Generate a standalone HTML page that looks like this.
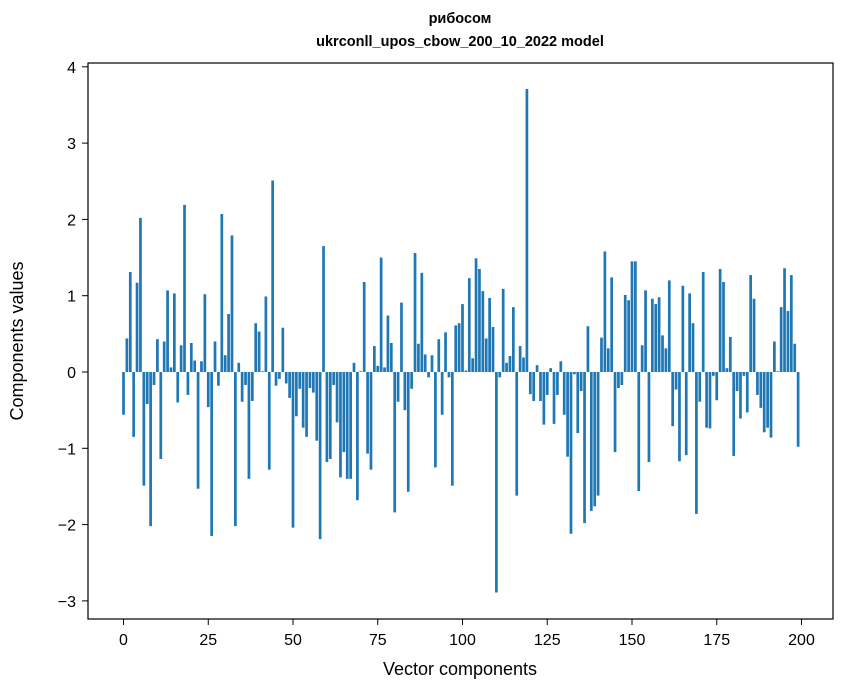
<!DOCTYPE html>
<html><head><meta charset="utf-8"><style>
body{margin:0;background:#fff;}
svg{display:block;font-family:"Liberation Sans","DejaVu Sans",sans-serif;}
</style></head><body>
<svg width="847" height="696" viewBox="0 0 847 696">
<rect width="847" height="696" fill="#fff"/>
<text x="460" y="23" text-anchor="middle" font-size="14.5" font-weight="bold">рибосом</text>
<text x="460" y="46" text-anchor="middle" font-size="14.5" font-weight="bold">ukrconll_upos_cbow_200_10_2022 model</text>
<g id="bars"></g>
<rect x="88" y="63" width="745" height="556" fill="none" stroke="#000" stroke-width="1.2"/>
<g id="xticks"></g>
<g id="yticks"></g>
<text x="460" y="675" text-anchor="middle" font-size="18">Vector components</text>
<text transform="translate(23,341) rotate(-90)" text-anchor="middle" font-size="18">Components values</text>
</svg>
<script>
const values = [
-0.56,0.44,1.31,-0.85,1.17,2.02,-1.49,-0.42,-2.02,-0.17,
0.43,-1.14,0.40,1.07,0.06,1.03,-0.40,0.35,2.19,-0.30,
0.38,0.15,-1.53,0.14,1.02,-0.46,-2.15,0.40,-0.18,2.07,
0.22,0.76,1.79,-2.02,0.12,-0.39,-0.17,-1.40,-0.38,0.64,
0.53,0.01,0.99,-1.28,2.51,-0.18,-0.09,0.58,-0.15,-0.34,
-2.04,-0.58,-0.22,-0.73,-0.85,-0.21,-0.27,-0.90,-2.19,1.65,
-1.18,-1.14,-0.17,-0.66,-1.38,-1.05,-1.40,-1.40,0.12,-1.68,
0.01,1.18,-1.07,-1.28,0.34,0.08,1.50,0.06,0.74,0.38,
-1.84,-0.39,0.91,-0.50,-1.57,-0.22,1.56,0.37,1.30,0.23,
-0.07,0.22,-1.25,0.43,-0.56,0.52,-0.07,-1.49,0.61,0.64,
0.89,0.02,1.23,0.18,1.49,1.35,1.06,0.44,0.97,0.59,
-2.89,-0.07,1.09,0.12,0.21,0.85,-1.62,0.34,0.19,3.71,
-0.29,-0.38,0.09,-0.38,-0.69,-0.30,0.05,-0.68,-0.30,0.14,
-0.56,-1.11,-2.12,-0.03,-0.80,-0.25,-1.98,0.60,-1.82,-1.76,
-1.62,0.45,1.58,0.31,1.24,-1.05,-0.21,-0.17,1.01,0.94,
1.45,1.45,-1.56,0.35,1.07,-1.18,0.96,0.89,0.98,0.48,
0.31,1.20,-0.71,-0.23,-1.17,1.13,-1.09,1.03,0.64,-1.86,
-0.39,1.31,-0.73,-0.74,-0.05,-0.37,1.35,1.18,0.05,0.46,
-1.10,-0.25,-0.61,-0.05,-0.53,1.27,0.96,-0.30,-0.47,-0.79,
-0.73,-0.86,0.40,0.01,0.85,1.36,0.80,1.27,0.37,-0.98
];
const xTickValues = [0,25,50,75,100,125,150,175,200];
const yTickValues = [-3,-2,-1,0,1,2,3,4];
const yTickLabels = ["\u22123","\u22122","\u22121","0","1","2","3","4"];

const NS = "http://www.w3.org/2000/svg";
function xs(v){ return 123.5 + 3.39*v; }
function ys(v){ return 372 - 76.3*v; }
const bw = 3.39*0.8;
const bars = document.getElementById('bars');
values.forEach((v,i)=>{
  const r = document.createElementNS(NS,'rect');
  
  
  const y0 = ys(0), y1 = ys(v);
  r.setAttribute('x', xs(i) - bw/2);
  r.setAttribute('y', Math.min(y0,y1));
  r.setAttribute('width', bw);
  r.setAttribute('height', Math.max(Math.abs(y1-y0),0.3));
  r.setAttribute('fill', '#1f77b4');
  bars.appendChild(r);
});
const xt = document.getElementById('xticks');
xTickValues.forEach(t=>{
  const l = document.createElementNS(NS,'line');
  
  
  l.setAttribute('x1', xs(t)); l.setAttribute('x2', xs(t));
  l.setAttribute('y1', 619); l.setAttribute('y2', 625);
  l.setAttribute('stroke', '#000');
  xt.appendChild(l);
  const tx = document.createElementNS(NS,'text');
  
  
  tx.setAttribute('x', xs(t)); tx.setAttribute('y', 645);
  tx.setAttribute('text-anchor', 'middle'); tx.setAttribute('font-size', '16');
  tx.textContent = t;
  xt.appendChild(tx);
});
const yt = document.getElementById('yticks');
yTickValues.forEach((t,k)=>{
  const l = document.createElementNS(NS,'line');
  
  
  l.setAttribute('x1', 82); l.setAttribute('x2', 88);
  l.setAttribute('y1', ys(t)); l.setAttribute('y2', ys(t));
  l.setAttribute('stroke', '#000');
  yt.appendChild(l);
  const tx = document.createElementNS(NS,'text');
  
  
  tx.setAttribute('x', 76); tx.setAttribute('y', ys(t)+6);
  tx.setAttribute('text-anchor', 'end'); tx.setAttribute('font-size', '16');
  tx.textContent = yTickLabels[k];
  yt.appendChild(tx);
});
</script>
</body></html>
